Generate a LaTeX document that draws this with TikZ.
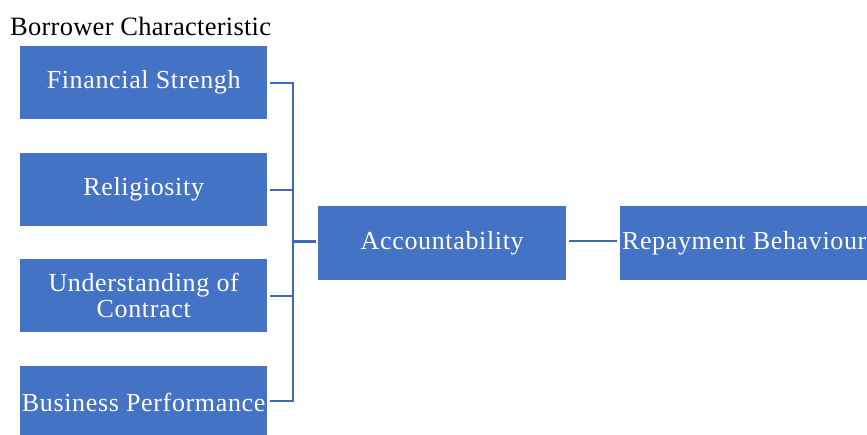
\documentclass[tikz,border=0pt]{standalone}
\usepackage{fontspec}
\setmainfont{Liberation Serif}
\definecolor{boxblue}{HTML}{4472C4}
\definecolor{lineblue}{HTML}{3F68B5}
\begin{document}
\begin{tikzpicture}[x=1pt,y=-1pt,
  blockbox/.style={draw=none,fill=boxblue,text=white,anchor=north west,
    minimum width=247pt,minimum height=73pt,inner sep=1pt,align=center,
    font=\fontsize{26}{28}\selectfont\addfontfeature{LetterSpace=2.5}},
  conn/.style={draw=lineblue,line width=1.8pt},
  mainconn/.style={draw=lineblue,line width=3pt}]
\useasboundingbox (0,0) rectangle (867,434);
\begin{scope}
\clip (0,0) rectangle (867,434);
\node[anchor=base west,inner sep=0pt,font=\fontsize{26.5}{28}\selectfont\addfontfeature{LetterSpace=1}] (title) at (10,35) {Borrower Characteristic};
\node[blockbox] (f) at (20,46) {Financial Strengh};
\node[blockbox] (r) at (20,153) {Religiosity};
\node[blockbox] (u) at (20,259) {Understanding of\\[-2pt]Contract};
\node[blockbox] (b) at (20,366) {Business Performance};
\node[blockbox,minimum width=248pt,minimum height=74pt] (acc) at (318,206) {Accountability};
\node[blockbox,minimum width=248pt,minimum height=74pt] (rep) at (620,206) {Repayment Behaviour};
\coordinate (bx) at (293,241);
\draw[conn] ([xshift=3pt]f.east) -- (f.east -| bx) -- ([yshift=2pt]b.east -| bx) -- ([xshift=3pt,yshift=2pt]b.east);
\draw[conn] ([xshift=3pt]r.east) -- (r.east -| bx);
\draw[conn] ([xshift=3pt]u.east) -- (u.east -| bx);
\draw[mainconn] (bx) -- ([xshift=-2pt]bx -| acc.west);
\draw[conn] ([xshift=3pt]acc.east |- bx) -- ([xshift=-3pt]rep.west |- bx);
\end{scope}
\end{tikzpicture}
\end{document}
